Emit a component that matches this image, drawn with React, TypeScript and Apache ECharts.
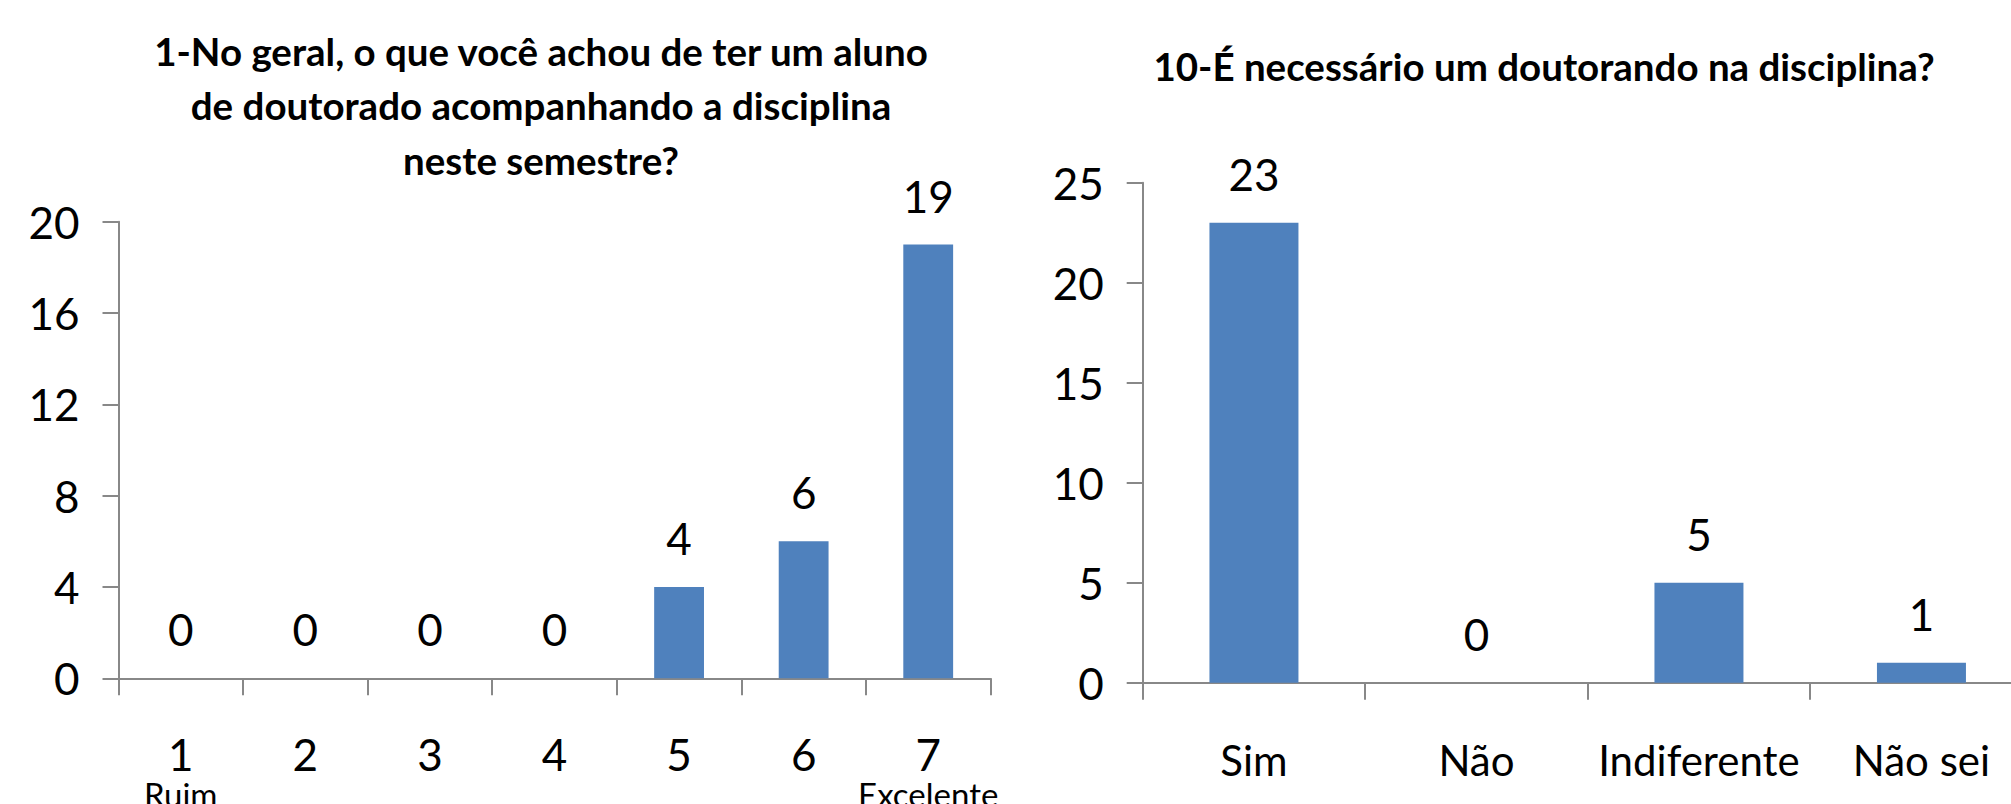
import React, { useEffect, useRef } from "react";
import * as echarts from "echarts";

const leftCategories = ["1", "2", "3", "4", "5", "6", "7"];
const leftSubLabels = ["Ruim", "", "", "", "", "", "Excelente"];
const leftValues = [0, 0, 0, 0, 4, 6, 19];

const rightCategories = ["Sim", "Não", "Indiferente", "Não sei"];
const rightValues = [23, 0, 5, 1];

const leftTitle =
  "1-No geral, o que você achou de ter um aluno\nde doutorado acompanhando a disciplina\nneste semestre?";
const rightTitle = "10-É necessário um doutorando na disciplina?";

const FONT = "Lato, 'Noto Sans', sans-serif";
const BAR = "#4F81BD";
const AXIS = "#888888";

export default function App() {
  const ref = useRef<HTMLDivElement>(null);
  useEffect(() => {
    if (!ref.current) return;
    const chart = echarts.init(ref.current, undefined, { renderer: "svg" });
    const axisLine = { show: true, lineStyle: { color: AXIS, width: 2 } };
    const yCommon = (max: number, interval: number, gridIndex: number) => ({
      type: "value" as const,
      gridIndex,
      min: 0,
      max,
      interval,
      axisLine,
      axisTick: { show: true, length: 16, inside: false, lineStyle: { color: AXIS, width: 2 } },
      splitLine: { show: false },
      axisLabel: { fontFamily: FONT, fontSize: 44, color: "#000", margin: 39 },
    });
    const labelStyle = {
      show: true,
      position: "top" as const,
      distance: 27,
      fontFamily: FONT,
      fontSize: 44,
      lineHeight: 44,
      color: "#000",
    };
    const titleStyle = {
      fontFamily: FONT,
      fontWeight: "bold",
      fontSize: 38.5,
      lineHeight: 54.5,
      fill: "#000",
      textAlign: "center",
      textVerticalAlign: "top",
    };
    chart.setOption({
      animation: false,
      backgroundColor: "#ffffff",
      graphic: [
        { type: "text", x: 541, y: 23.5, style: { ...titleStyle, text: leftTitle } },
        { type: "text", x: 1544, y: 38.5, style: { ...titleStyle, text: rightTitle } },
      ],
      grid: [
        { left: 118.5, top: 221.7, width: 872, height: 456.6, outerBoundsMode: "none", containLabel: false },
        { left: 1142.7, top: 182.7, width: 890, height: 500, outerBoundsMode: "none", containLabel: false },
      ],
      xAxis: [
        {
          type: "category",
          gridIndex: 0,
          data: leftCategories,
          boundaryGap: true,
          axisLine,
          axisTick: { show: true, length: 17, lineStyle: { color: AXIS, width: 2 } },
          axisLabel: {
            interval: 0,
            margin: 53,
            formatter: (v: string, i: number) =>
              leftSubLabels[i] ? `{n|${v}}\n{s|${leftSubLabels[i]}}` : `{n|${v}}`,
            rich: {
              n: { fontFamily: FONT, fontSize: 44, lineHeight: 46, color: "#000" },
              s: { fontFamily: FONT, fontSize: 33, lineHeight: 34, color: "#000" },
            },
          },
        },
        {
          type: "category",
          gridIndex: 1,
          data: rightCategories,
          boundaryGap: true,
          axisLine,
          axisTick: { show: true, length: 17, lineStyle: { color: AXIS, width: 2 } },
          axisLabel: {
            interval: 0,
            margin: 55.5,
            fontFamily: FONT,
            fontSize: 42,
            lineHeight: 44,
            color: "#000",
          },
        },
      ],
      yAxis: [yCommon(20, 4, 0), yCommon(25, 5, 1)],
      series: [
        {
          type: "bar",
          xAxisIndex: 0,
          yAxisIndex: 0,
          data: leftValues,
          barCategoryGap: "60%",
          itemStyle: { color: BAR },
          label: labelStyle,
        },
        {
          type: "bar",
          xAxisIndex: 1,
          yAxisIndex: 1,
          data: rightValues,
          barCategoryGap: "60%",
          itemStyle: { color: BAR },
          label: labelStyle,
        },
      ],
    });
    return () => chart.dispose();
  }, []);
  return (
    <div
      ref={ref}
      style={{ position: "absolute", left: 0, top: 0, width: 2011, height: 804, overflow: "hidden" }}
    />
  );
}
